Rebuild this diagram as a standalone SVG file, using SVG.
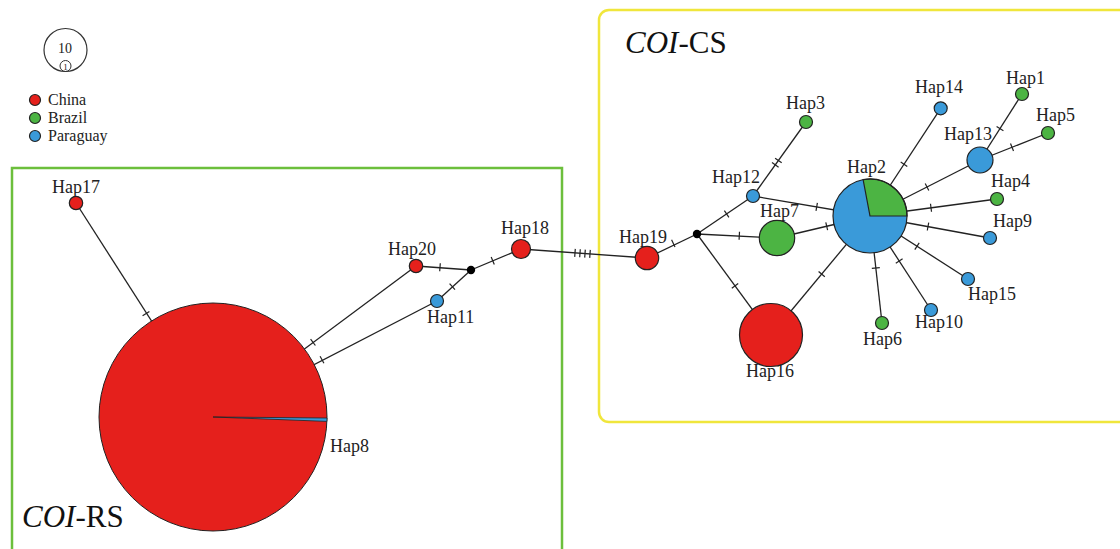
<svg xmlns="http://www.w3.org/2000/svg" width="1120" height="549" viewBox="0 0 1120 549">
<style>
.e{stroke:#222;stroke-width:1.3;fill:none}
.t{stroke:#222;stroke-width:1.2}
.n{stroke:#222;stroke-width:1.2}
.r{fill:#e5201c}.g{fill:#4cb443}.b{fill:#3a9ad9}
.lb{font-family:"Liberation Serif",serif;font-size:18px;fill:#222}
.lg{font-family:"Liberation Serif",serif;font-size:16px;fill:#222}
.ti{font-family:"Liberation Serif",serif;font-size:31px;fill:#111}
</style>
<rect width="1120" height="549" fill="#fff"/>
<g id="boxes">
<rect x="12" y="168" width="550" height="400" fill="none" stroke="#6cbf3c" stroke-width="2.5"/>
<rect x="599" y="10" width="540" height="412" rx="10" fill="none" stroke="#f0e63c" stroke-width="2.5"/>
<text class="ti" x="625" y="53"><tspan font-style="italic">COI</tspan>-CS</text>
<text class="ti" x="22" y="527"><tspan font-style="italic">COI</tspan>-RS</text>
</g>
<g id="legend">
<circle cx="65.5" cy="50" r="21.5" fill="none" stroke="#333" stroke-width="1.2"/>
<text x="65" y="53" font-family="Liberation Serif,serif" font-size="14" text-anchor="middle" fill="#222">10</text>
<circle cx="65.5" cy="66" r="5.5" fill="none" stroke="#333" stroke-width="1"/>
<text x="65.5" y="69.5" font-family="Liberation Serif,serif" font-size="9" text-anchor="middle" fill="#222">1</text>
<circle class="r n" cx="35" cy="100" r="5.5"/>
<circle class="g n" cx="35" cy="118" r="5.5"/>
<circle class="b n" cx="35" cy="136" r="5.5"/>
<text class="lg" x="48" y="105">China</text>
<text class="lg" x="48" y="123">Brazil</text>
<text class="lg" x="48" y="141">Paraguay</text>
</g>
<g id="connectors">
<line class="e" x1="76" y1="203" x2="213" y2="417"/>
<line class="e" x1="416" y1="266" x2="213" y2="417"/>
<line class="e" x1="437" y1="301" x2="213" y2="417"/>
<line class="e" x1="416" y1="266" x2="471" y2="270"/>
<line class="e" x1="437" y1="301" x2="471" y2="270"/>
<line class="e" x1="471" y1="270" x2="521" y2="249"/>
<line class="e" x1="521" y1="249" x2="647" y2="258"/>
<line class="e" x1="647" y1="258" x2="697" y2="234"/>
<line class="e" x1="697" y1="234" x2="753" y2="196"/>
<line class="e" x1="753" y1="196" x2="806" y2="122"/>
<line class="e" x1="697" y1="234" x2="777" y2="238"/>
<line class="e" x1="697" y1="234" x2="771" y2="335"/>
<line class="e" x1="753" y1="196" x2="870" y2="216"/>
<line class="e" x1="777" y1="238" x2="870" y2="216"/>
<line class="e" x1="771" y1="335" x2="870" y2="216"/>
<line class="e" x1="870" y1="216" x2="940.7" y2="108.3"/>
<line class="e" x1="870" y1="216" x2="980" y2="160"/>
<line class="e" x1="980" y1="160" x2="1022" y2="94"/>
<line class="e" x1="980" y1="160" x2="1048" y2="133"/>
<line class="e" x1="870" y1="216" x2="997" y2="199"/>
<line class="e" x1="870" y1="216" x2="990" y2="238"/>
<line class="e" x1="870" y1="216" x2="968" y2="279"/>
<line class="e" x1="870" y1="216" x2="931" y2="310"/>
<line class="e" x1="870" y1="216" x2="882" y2="323"/>
<g id="ticks">
<line class="t" x1="142.6" y1="315.8" x2="149.4" y2="311.4"/>
<line class="t" x1="310.6" y1="339.1" x2="315.4" y2="345.5"/>
<line class="t" x1="320.1" y1="356.3" x2="323.9" y2="363.3"/>
<line class="t" x1="440.3" y1="263.3" x2="439.7" y2="271.3"/>
<line class="t" x1="449.6" y1="283.7" x2="455.0" y2="289.7"/>
<line class="t" x1="491.2" y1="257.0" x2="494.3" y2="264.4"/>
<line class="t" x1="575.3" y1="248.9" x2="574.7" y2="256.9"/>
<line class="t" x1="580.3" y1="249.2" x2="579.7" y2="257.2"/>
<line class="t" x1="585.3" y1="249.6" x2="584.7" y2="257.6"/>
<line class="t" x1="590.3" y1="249.9" x2="589.7" y2="257.9"/>
<line class="t" x1="671.6" y1="239.7" x2="675.0" y2="246.9"/>
<line class="t" x1="724.4" y1="210.7" x2="728.9" y2="217.3"/>
<line class="t" x1="772.0" y1="162.6" x2="778.6" y2="167.2"/>
<line class="t" x1="775.1" y1="158.2" x2="781.7" y2="162.8"/>
<line class="t" x1="739.5" y1="231.7" x2="739.1" y2="239.7"/>
<line class="t" x1="817.4" y1="202.9" x2="816.0" y2="210.8"/>
<line class="t" x1="825.8" y1="222.3" x2="827.6" y2="230.1"/>
<line class="t" x1="731.8" y1="288.3" x2="738.2" y2="283.5"/>
<line class="t" x1="818.6" y1="271.5" x2="824.8" y2="276.7"/>
<line class="t" x1="900.7" y1="162.0" x2="907.3" y2="166.4"/>
<line class="t" x1="925.2" y1="183.4" x2="928.8" y2="190.6"/>
<line class="t" x1="996.6" y1="126.4" x2="1003.4" y2="130.7"/>
<line class="t" x1="1010.5" y1="143.6" x2="1013.5" y2="151.0"/>
<line class="t" x1="930.5" y1="203.8" x2="931.5" y2="211.8"/>
<line class="t" x1="928.7" y1="222.7" x2="927.3" y2="230.5"/>
<line class="t" x1="919.2" y1="242.8" x2="914.8" y2="249.6"/>
<line class="t" x1="902.6" y1="258.8" x2="895.8" y2="263.2"/>
<line class="t" x1="879.8" y1="267.6" x2="871.8" y2="268.4"/>
</g>
</g>
<g id="Hap8">
<circle class="r" cx="213" cy="417" r="114" stroke="#222" stroke-width="1"/>
<path d="M213,417 L327,418 A114,114 0 0,1 326.9,421.4 Z" class="b" stroke="#222" stroke-width="0.8"/>
<text class="lb" x="330" y="452">Hap8</text>
</g>
<g id="Hap17"><circle class="r n" cx="76" cy="203" r="6.7"/><text class="lb" x="52" y="193">Hap17</text></g>
<g id="Hap20"><circle class="r n" cx="416" cy="266" r="6.7"/><text class="lb" x="388" y="255">Hap20</text></g>
<g id="Hap11"><circle class="b n" cx="437" cy="301" r="6.5"/><text class="lb" x="427" y="323">Hap11</text></g>
<g id="junction1"><circle cx="471" cy="270" r="4.2" fill="#000"/></g>
<g id="Hap18"><circle class="r n" cx="521" cy="249" r="9.5"/><text class="lb" x="501" y="234">Hap18</text></g>
<g id="Hap19"><circle class="r n" cx="647" cy="258" r="11.7"/><text class="lb" x="619" y="243">Hap19</text></g>
<g id="junction2"><circle cx="697" cy="234" r="4.2" fill="#000"/></g>
<g id="Hap12"><circle class="b n" cx="753" cy="196" r="6.5"/><text class="lb" x="712" y="183">Hap12</text></g>
<g id="Hap3"><circle class="g n" cx="806" cy="122" r="6.5"/><text class="lb" x="786" y="109">Hap3</text></g>
<g id="Hap7"><circle class="g n" cx="777" cy="238" r="17.7"/><text class="lb" x="760" y="217">Hap7</text></g>
<g id="Hap16"><circle class="r n" cx="771" cy="335" r="31.5"/><text class="lb" x="746" y="377">Hap16</text></g>
<g id="Hap2">
<circle class="b" cx="870" cy="216" r="37"/>
<path d="M870,216 L863.1,179.6 A37,37 0 0,1 907,216 Z" class="g" stroke="#222" stroke-width="1.2"/>
<circle cx="870" cy="216" r="37" fill="none" stroke="#222" stroke-width="1.2"/>
<text class="lb" x="847" y="173">Hap2</text>
</g>
<g id="Hap14"><circle class="b n" cx="940.7" cy="108.3" r="6.5"/><text class="lb" x="915" y="93">Hap14</text></g>
<g id="Hap13"><circle class="b n" cx="980" cy="160" r="13"/><text class="lb" x="944" y="140">Hap13</text></g>
<g id="Hap1"><circle class="g n" cx="1022" cy="94" r="6.5"/><text class="lb" x="1006" y="84">Hap1</text></g>
<g id="Hap5"><circle class="g n" cx="1048" cy="133" r="6.5"/><text class="lb" x="1036" y="121">Hap5</text></g>
<g id="Hap4"><circle class="g n" cx="997" cy="199" r="6.5"/><text class="lb" x="991" y="187">Hap4</text></g>
<g id="Hap9"><circle class="b n" cx="990" cy="238" r="6.5"/><text class="lb" x="993" y="227">Hap9</text></g>
<g id="Hap15"><circle class="b n" cx="968" cy="279" r="6.5"/><text class="lb" x="968" y="300">Hap15</text></g>
<g id="Hap10"><circle class="b n" cx="931" cy="310" r="6.5"/><text class="lb" x="915" y="328">Hap10</text></g>
<g id="Hap6"><circle class="g n" cx="882" cy="323" r="6.5"/><text class="lb" x="863" y="345">Hap6</text></g>
</svg>
